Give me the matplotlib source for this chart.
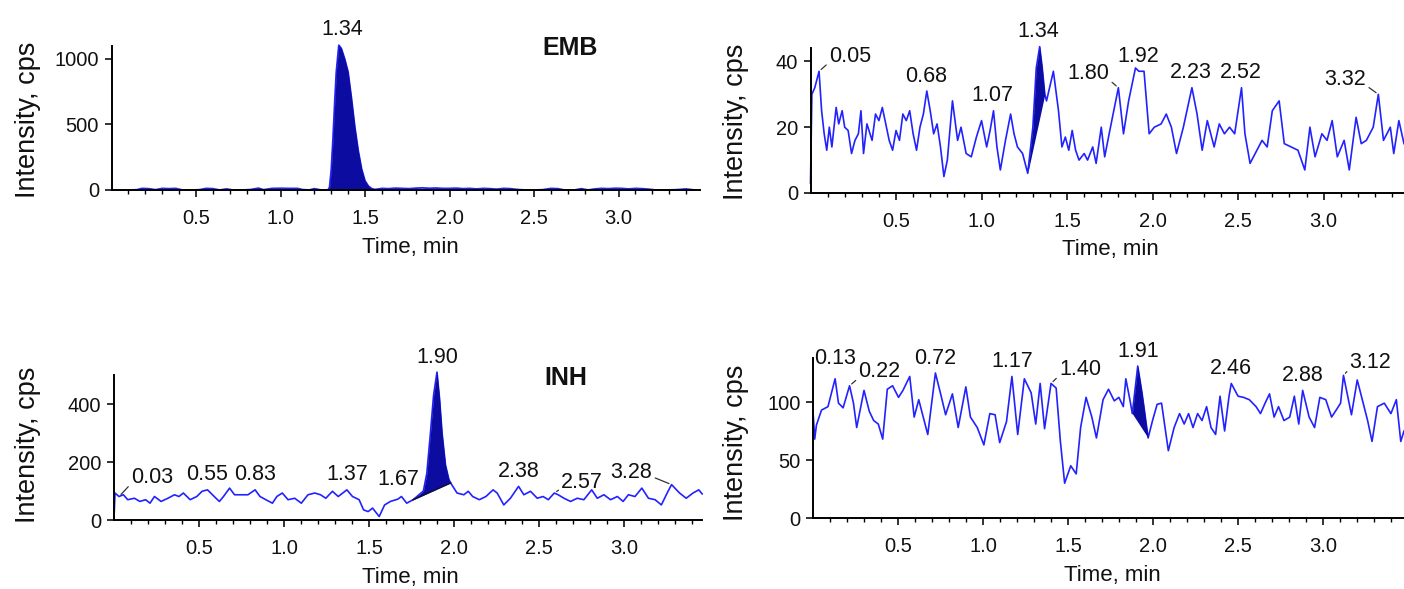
import numpy as np
import matplotlib
matplotlib.use("Agg")
import matplotlib.pyplot as plt

plt.rcParams['font.family'] = ['Liberation Sans', 'DejaVu Sans']

# ---------------- data ----------------
# Panel 1: EMB chromatogram (baseline + peak at 1.34 min)
emb_t = [0.00, 0.05, 0.10, 0.15, 0.18, 0.22, 0.26, 0.30, 0.34, 0.38, 0.42, 0.47, 0.52, 0.56,
         0.60, 0.64, 0.68, 0.72, 0.77, 0.82, 0.87, 0.90, 0.95, 1.00, 1.05, 1.10, 1.13, 1.17,
         1.20, 1.24, 1.28, 1.29, 1.30, 1.31, 1.32, 1.33, 1.345, 1.36, 1.38, 1.40, 1.42, 1.44,
         1.46, 1.48, 1.50, 1.52, 1.54, 1.56, 1.60, 1.64, 1.68, 1.72, 1.76, 1.80, 1.84, 1.88,
         1.92, 1.96, 2.00, 2.04, 2.08, 2.12, 2.16, 2.20, 2.24, 2.28, 2.32, 2.36, 2.40, 2.45,
         2.50, 2.55, 2.60, 2.64, 2.68, 2.74, 2.78, 2.82, 2.86, 2.90, 2.94, 2.98, 3.02, 3.06,
         3.10, 3.14, 3.18, 3.22, 3.28, 3.34, 3.40, 3.45]
emb_v = [0, 0, 0, 2, 12, 10, 2, 12, 10, 12, 0, 0, 2, 12,
         10, 0, 8, 0, 0, 3, 14, 2, 12, 13, 12, 12, 3, 0,
         10, 0, 0, 20, 150, 380, 650, 900, 1105, 1080, 1000, 900, 700, 480,
         300, 160, 70, 30, 10, 4, 12, 10, 14, 12, 10, 14, 16, 13,
         15, 12, 12, 14, 10, 12, 8, 12, 10, 6, 12, 10, 4, 0,
         0, 2, 12, 10, 0, 0, 10, 0, 8, 12, 10, 13, 12, 8,
         12, 10, 6, 0, 0, 2, 8, 0]
emb_fill = (1.28, 1.56)
emb_labels = [(1.345, "1.34")]

# Panel 2: EMB blank
b1_t = [0.000, 0.008, 0.025, 0.05, 0.065, 0.08, 0.095, 0.11, 0.125, 0.15, 0.165, 0.185, 0.20,
        0.22, 0.24, 0.26, 0.28, 0.295, 0.31, 0.33, 0.36, 0.38, 0.40, 0.42, 0.44, 0.46, 0.48,
        0.50, 0.52, 0.54, 0.56, 0.58, 0.60, 0.62, 0.64, 0.66, 0.68, 0.70, 0.72, 0.74, 0.76,
        0.78, 0.80, 0.83, 0.86, 0.88, 0.91, 0.94, 0.97, 1.00, 1.03, 1.05, 1.07, 1.09, 1.11,
        1.14, 1.17, 1.19, 1.21, 1.24, 1.27, 1.30, 1.32, 1.34, 1.355, 1.37, 1.38, 1.42, 1.45,
        1.47, 1.49, 1.51, 1.53, 1.55, 1.57, 1.60, 1.62, 1.65, 1.67, 1.70, 1.72, 1.75, 1.80,
        1.83, 1.86, 1.90, 1.92, 1.95, 1.98, 2.01, 2.05, 2.08, 2.11, 2.14, 2.18, 2.23, 2.26,
        2.29, 2.32, 2.36, 2.39, 2.42, 2.45, 2.48, 2.52, 2.54, 2.57, 2.61, 2.64, 2.67, 2.70,
        2.74, 2.77, 2.81, 2.85, 2.89, 2.92, 2.95, 2.99, 3.02, 3.05, 3.08, 3.12, 3.15, 3.19,
        3.22, 3.25, 3.29, 3.32, 3.35, 3.39, 3.41, 3.44, 3.47]
b1_v = [3, 30, 32, 37, 25, 18, 13, 20, 14, 26, 21, 25, 20,
        19, 12, 16, 18, 25, 12, 21, 16, 24, 22, 26, 21, 16, 13,
        19, 16, 24, 22, 25, 18, 13, 20, 24, 31, 25, 18, 21, 14,
        5, 10, 28, 16, 20, 12, 11, 17, 22, 14, 19, 25, 14, 7,
        16, 24, 18, 14, 12, 6, 20, 38, 44.5, 38, 30, 28, 37, 25,
        14, 17, 13, 19, 13, 10, 12, 10, 14, 9, 20, 11, 19, 32,
        18, 28, 38, 37, 37, 18, 20, 21, 24, 20, 12, 20, 32, 24,
        13, 22, 14, 21, 18, 20, 18, 32, 18, 9, 13, 16, 14, 25,
        28, 15, 14, 13, 7, 20, 11, 18, 16, 22, 11, 16, 7, 23,
        15, 16, 20, 30, 16, 20, 12, 22, 15]
b1_fill = ((1.27, 6), (1.37, 30))
b1_labels = [(0.05, "0.05"), (0.68, "0.68"), (1.07, "1.07"), (1.34, "1.34"), (1.80, "1.80"),
             (1.92, "1.92"), (2.23, "2.23"), (2.52, "2.52"), (3.32, "3.32")]

# Panel 3: INH chromatogram
inh_t = [0.000, 0.006, 0.029, 0.055, 0.081, 0.120, 0.152, 0.186, 0.212, 0.238, 0.277, 0.317,
         0.356, 0.382, 0.408, 0.448, 0.487, 0.518, 0.55, 0.60, 0.62, 0.644, 0.68, 0.709, 0.749,
         0.788, 0.83, 0.859, 0.893, 0.932, 0.958, 0.99, 1.024, 1.063, 1.102, 1.141, 1.181,
         1.215, 1.246, 1.285, 1.319, 1.37, 1.403, 1.442, 1.468, 1.495, 1.521, 1.56, 1.592,
         1.626, 1.67, 1.691, 1.722, 1.76, 1.78, 1.80, 1.82, 1.84, 1.86, 1.88, 1.90, 1.915,
         1.93, 1.95, 1.97, 1.98, 2.018, 2.058, 2.084, 2.110, 2.149, 2.188, 2.23, 2.254, 2.293,
         2.332, 2.38, 2.411, 2.450, 2.490, 2.524, 2.555, 2.59, 2.613, 2.647, 2.686, 2.725,
         2.764, 2.81, 2.843, 2.882, 2.921, 2.961, 2.995, 3.026, 3.065, 3.105, 3.144, 3.183,
         3.22, 3.254, 3.28, 3.327, 3.366, 3.406, 3.440, 3.46]
inh_v = [5, 93, 81, 87, 70, 75, 64, 70, 58, 81, 64, 75,
         87, 81, 93, 70, 81, 99, 104, 75, 64, 81, 110, 87, 87,
         87, 104, 81, 70, 58, 81, 93, 70, 75, 58, 87, 93,
         87, 75, 99, 81, 104, 81, 70, 35, 29, 41, 12, 52,
         64, 72, 81, 58, 70, 80, 90, 100, 160, 290, 430, 510, 420,
         300, 190, 140, 128, 93, 87, 99, 81, 70, 81, 104, 93, 52,
         75, 116, 87, 99, 75, 81, 70, 93, 87, 75, 64, 75,
         70, 104, 75, 87, 70, 81, 64, 87, 81, 110, 75, 70,
         52, 93, 122, 93, 75, 93, 104, 90]
inh_fill = ((1.76, 70), (1.98, 128))
inh_labels = [(0.03, "0.03"), (0.55, "0.55"), (0.83, "0.83"), (1.37, "1.37"), (1.67, "1.67"),
              (1.90, "1.90"), (2.38, "2.38"), (2.59, "2.57"), (3.28, "3.28")]

# Panel 4: INH blank
b2_t = [0.000, 0.010, 0.020, 0.050, 0.088, 0.13, 0.150, 0.177, 0.215, 0.238, 0.257, 0.30,
        0.331, 0.357, 0.384, 0.410, 0.437, 0.468, 0.503, 0.529, 0.569, 0.595, 0.622, 0.643,
        0.675, 0.72, 0.754, 0.780, 0.820, 0.854, 0.899, 0.926, 0.966, 1.005, 1.040, 1.071,
        1.098, 1.138, 1.17, 1.204, 1.243, 1.283, 1.310, 1.336, 1.362, 1.40, 1.43, 1.455,
        1.48, 1.516, 1.548, 1.574, 1.606, 1.640, 1.667, 1.706, 1.738, 1.772, 1.799, 1.825,
        1.84, 1.865, 1.878, 1.91, 1.935, 1.95, 1.971, 1.997, 2.024, 2.050, 2.09, 2.124,
        2.156, 2.183, 2.209, 2.235, 2.262, 2.288, 2.315, 2.341, 2.368, 2.394, 2.421, 2.447,
        2.46, 2.50, 2.532, 2.566, 2.606, 2.632, 2.659, 2.685, 2.712, 2.738, 2.770, 2.804,
        2.831, 2.857, 2.88, 2.918, 2.950, 2.981, 3.016, 3.050, 3.077, 3.103, 3.12, 3.167,
        3.201, 3.236, 3.262, 3.288, 3.320, 3.360, 3.399, 3.431, 3.457, 3.476]
b2_v = [92, 68, 80, 93, 96, 120, 99, 95, 114, 99, 78, 110,
        92, 84, 81, 68, 111, 114, 104, 110, 122, 87, 102, 90,
        72, 125, 105, 89, 107, 78, 113, 87, 78, 63, 90, 89,
        65, 83, 122, 72, 120, 108, 81, 116, 77, 116, 112, 66,
        30, 45, 38, 78, 104, 87, 69, 102, 111, 101, 104, 96,
        120, 101, 90, 131, 108, 92, 69, 84, 98, 99, 58, 78,
        90, 81, 90, 78, 90, 84, 96, 78, 72, 105, 75, 105,
        116, 105, 104, 102, 96, 90, 99, 107, 87, 96, 84, 87,
        105, 81, 110, 87, 78, 104, 102, 87, 93, 99, 123, 89,
        119, 99, 84, 66, 96, 99, 90, 102, 66, 75]
b2_fill = ((1.878, 90), (1.971, 69))
b2_labels = [(0.13, "0.13"), (0.215, "0.22"), (0.72, "0.72"), (1.17, "1.17"), (1.40, "1.40"),
             (1.91, "1.91"), (2.46, "2.46"), (2.88, "2.88"), (3.12, "3.12")]

xticks = [0.5, 1.0, 1.5, 2.0, 2.5, 3.0]
xticklabels = ["0.5", "1.0", "1.5", "2.0", "2.5", "3.0"]

# ---------------- styling ----------------
W, H = 1404, 589
LINE = '#2222ff'
FILLC = '#0c0ca0'
TXT = '#111111'
fig = plt.figure(figsize=(W / 100, H / 100), dpi=100)


def make_ax(left, right, bottom, top):
    return fig.add_axes([left / W, 1 - bottom / H, (right - left) / W, (bottom - top) / H])


def style(ax, xmax, ymax, yticks):
    ax.set_xlim(0, xmax)
    ax.set_ylim(0, ymax)
    for s in ('top', 'right'):
        ax.spines[s].set_visible(False)
    for s in ('left', 'bottom'):
        ax.spines[s].set_linewidth(1.4)
        ax.spines[s].set_zorder(5)
    ax.set_xticks(xticks)
    ax.set_xticklabels(xticklabels)
    ax.set_xticks(np.arange(0.1, xmax, 0.1), minor=True)
    ax.set_yticks(yticks)
    ax.tick_params(axis='x', which='major', direction='out', length=5, width=1.2,
                   labelsize=14.5, pad=9, colors=TXT)
    ax.tick_params(axis='x', which='minor', direction='out', length=3, width=1.0)
    ax.tick_params(axis='y', which='major', direction='out', length=5, width=1.2,
                   labelsize=14.5, pad=4, colors=TXT)
    ax.patch.set_alpha(0)


def label(ax, t, txt, ts, vs, dx, dy, relpos=None):
    v = np.interp(t, ts, vs)
    kw = dict(xy=(t, v), xytext=(dx, dy), textcoords='offset pixels', ha='center',
              va='center', fontsize=15.5, color=TXT, annotation_clip=False, zorder=6)
    if relpos is not None:
        kw['arrowprops'] = dict(arrowstyle='-', lw=0.9, color='#333333', shrinkA=0,
                                shrinkB=2, relpos=relpos)
    ax.annotate(txt, **kw)


def fill_region(ax, ts, vs, p0, p1, edge=None):
    ts = np.asarray(ts, float)
    vs = np.asarray(vs, float)
    m = (ts >= p0[0]) & (ts <= p1[0])
    tt = ts[m]
    base = np.interp(tt, [p0[0], p1[0]], [p0[1], p1[1]])
    ax.fill_between(tt, base, vs[m], color=FILLC, lw=0, zorder=3, clip_on=False)
    if edge:
        ax.plot([p0[0], p1[0]], [p0[1], p1[1]], color=edge, lw=1.2, zorder=4)


# Panel 1
ax1 = make_ax(111.5, 700, 190, 190 - 1100 * 0.131)
style(ax1, 3.482, 1100, [0, 500, 1000])
ax1.plot(emb_t, emb_v, color=LINE, lw=1.3, zorder=2, clip_on=False)
t1 = np.asarray(emb_t); v1 = np.asarray(emb_v)
m = (t1 >= emb_fill[0]) & (t1 <= emb_fill[1])
ax1.fill_between(t1[m], 0, v1[m], color=FILLC, lw=0, zorder=3, clip_on=False)
label(ax1, emb_labels[0][0], emb_labels[0][1], emb_t, emb_v, 3, 16)
fig.text(570 / W, 1 - 48 / H, "EMB", fontsize=18, fontweight='bold', ha='center',
         va='center', color=TXT)

# Panel 2
ax2 = make_ax(810.5, 1404, 193, 193 - 44 * 3.29)
style(ax2, 3.47, 44, [0, 20, 40])
ax2.plot(b1_t, b1_v, color=LINE, lw=1.2, zorder=2, clip_on=False)
fill_region(ax2, b1_t, b1_v, b1_fill[0], b1_fill[1])
offs2 = {"0.05": (31, 15, (0, 0.2)), "1.80": (-30, 14, (1, 0.2)), "3.32": (-33, 15, (1, 0.2))}
for t, s in b1_labels:
    if s in offs2:
        dx, dy, rp = offs2[s]
        label(ax2, t, s, b1_t, b1_v, dx, dy, rp)
    else:
        label(ax2, t, s, b1_t, b1_v, -1, 15)

# Panel 3
ax3 = make_ax(114, 702, 520, 520 - 500 * 0.29)
style(ax3, 3.459, 500, [0, 200, 400])
ax3.plot(inh_t, inh_v, color=LINE, lw=1.2, zorder=2, clip_on=False)
fill_region(ax3, inh_t, inh_v, inh_fill[0], inh_fill[1], edge='#101040')
offs3 = {"0.03": (33, 19, (0, 0.2)), "2.57": (28, 11, (0, 0.2)), "3.28": (-40, 12, (1, 0.3)),
         "1.67": (0, 20, None)}
for t, s in inh_labels:
    if s in offs3:
        dx, dy, rp = offs3[s]
        label(ax3, t, s, inh_t, inh_v, dx, dy, rp)
    else:
        label(ax3, t, s, inh_t, inh_v, 0, 15)
fig.text(566 / W, 1 - 378 / H, "INH", fontsize=18, fontweight='bold', ha='center',
         va='center', color=TXT)

# Panel 4
ax4 = make_ax(813, 1404, 518, 518 - 138 * 1.16)
style(ax4, 3.476, 138, [0, 50, 100])
ax4.plot(b2_t, b2_v, color=LINE, lw=1.2, zorder=2, clip_on=False)
fill_region(ax4, b2_t, b2_v, b2_fill[0], b2_fill[1])
offs4 = {"0.22": (30, 14, (0, 0.2)), "1.40": (29, 14, (0, 0.2)), "3.12": (27, 13, (0, 0.2)),
         "0.13": (0, 20, None)}
for t, s in b2_labels:
    if s in offs4:
        dx, dy, rp = offs4[s]
        label(ax4, t, s, b2_t, b2_v, dx, dy, rp)
    else:
        label(ax4, t, s, b2_t, b2_v, 0, 15)

# axis titles
for (x, y) in [(28, 120), (736, 122), (28, 445), (736, 443)]:
    fig.text(x / W, 1 - y / H, "Intensity, cps", rotation=90, fontsize=19.5, ha='center',
             va='center', color=TXT)
for (x, y) in [(410, 248), (1110, 250), (410, 577), (1112, 576)]:
    fig.text(x / W, 1 - y / H, "Time, min", fontsize=16, ha='center', va='center', color=TXT)

fig.savefig("out.png", dpi=100)
